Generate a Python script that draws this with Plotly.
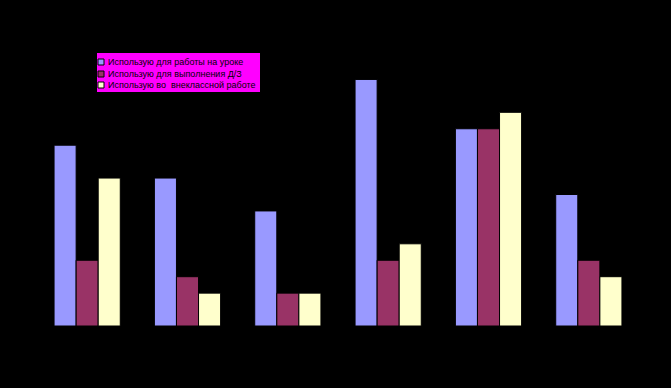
import plotly.graph_objects as go

categories = ["1", "2", "3", "4", "5", "6"]
series_names = [
    "Использую для работы на уроке",
    "Использую для выполнения Д/З",
    "Использую во  внеклассной работе",
]
values_lesson = [11, 9, 7, 15, 12, 8]
values_homework = [4, 3, 2, 4, 12, 4]
values_extra = [9, 2, 2, 5, 13, 3]
colors = ["#9999FF", "#993366", "#FFFFCC"]

W, H = 671, 388
ML, MR, MT, MB = 37, 32, 63, 62

fig = go.Figure()
for name, vals, col in zip(series_names, [values_lesson, values_homework, values_extra], colors):
    fig.add_trace(go.Bar(
        x=categories, y=vals, name=name,
        marker=dict(color=col, line=dict(color="black", width=1)),
    ))

# custom compact legend (pixel layout converted to paper coords)
pw, ph = W - ML - MR, H - MT - MB
def px(x):
    return (x - ML) / pw
def py(y):
    return (H - MB - y) / ph

shapes = [dict(type="rect", xref="paper", yref="paper",
               x0=px(97), x1=px(260), y0=py(92), y1=py(53),
               fillcolor="#FF00FF", line=dict(width=0), layer="above")]
annotations = []
row_y = [62, 74, 85]
for name, col, yc in zip(series_names, colors, row_y):
    shapes.append(dict(type="rect", xref="paper", yref="paper",
                       x0=px(98), x1=px(104), y0=py(yc + 3), y1=py(yc - 3),
                       fillcolor=col, line=dict(color="black", width=1), layer="above"))
    annotations.append(dict(xref="paper", yref="paper", x=px(106), y=py(yc),
                            xanchor="left", yanchor="middle", text=name, showarrow=False,
                            font=dict(family="Liberation Sans, Arial", size=9, color="black")))

fig.update_layout(
    width=W, height=H,
    margin=dict(l=ML, r=MR, t=MT, b=MB),
    paper_bgcolor="black", plot_bgcolor="black",
    barmode="group", bargap=0.34, bargroupgap=0,
    font=dict(family="Liberation Sans, Arial", size=8, color="black"),
    xaxis=dict(showgrid=False, zeroline=False, showline=False, tickfont=dict(color="black")),
    yaxis=dict(range=[0, 16], showgrid=False, zeroline=False, showline=False,
               showticklabels=False),
    showlegend=False,
    hovermode=False,
    shapes=shapes,
    annotations=annotations,
)

fig.write_html("out.html",
               config={"displayModeBar": False, "staticPlot": True},
               post_script="document.body.style.margin='0';document.body.style.background='black';")
